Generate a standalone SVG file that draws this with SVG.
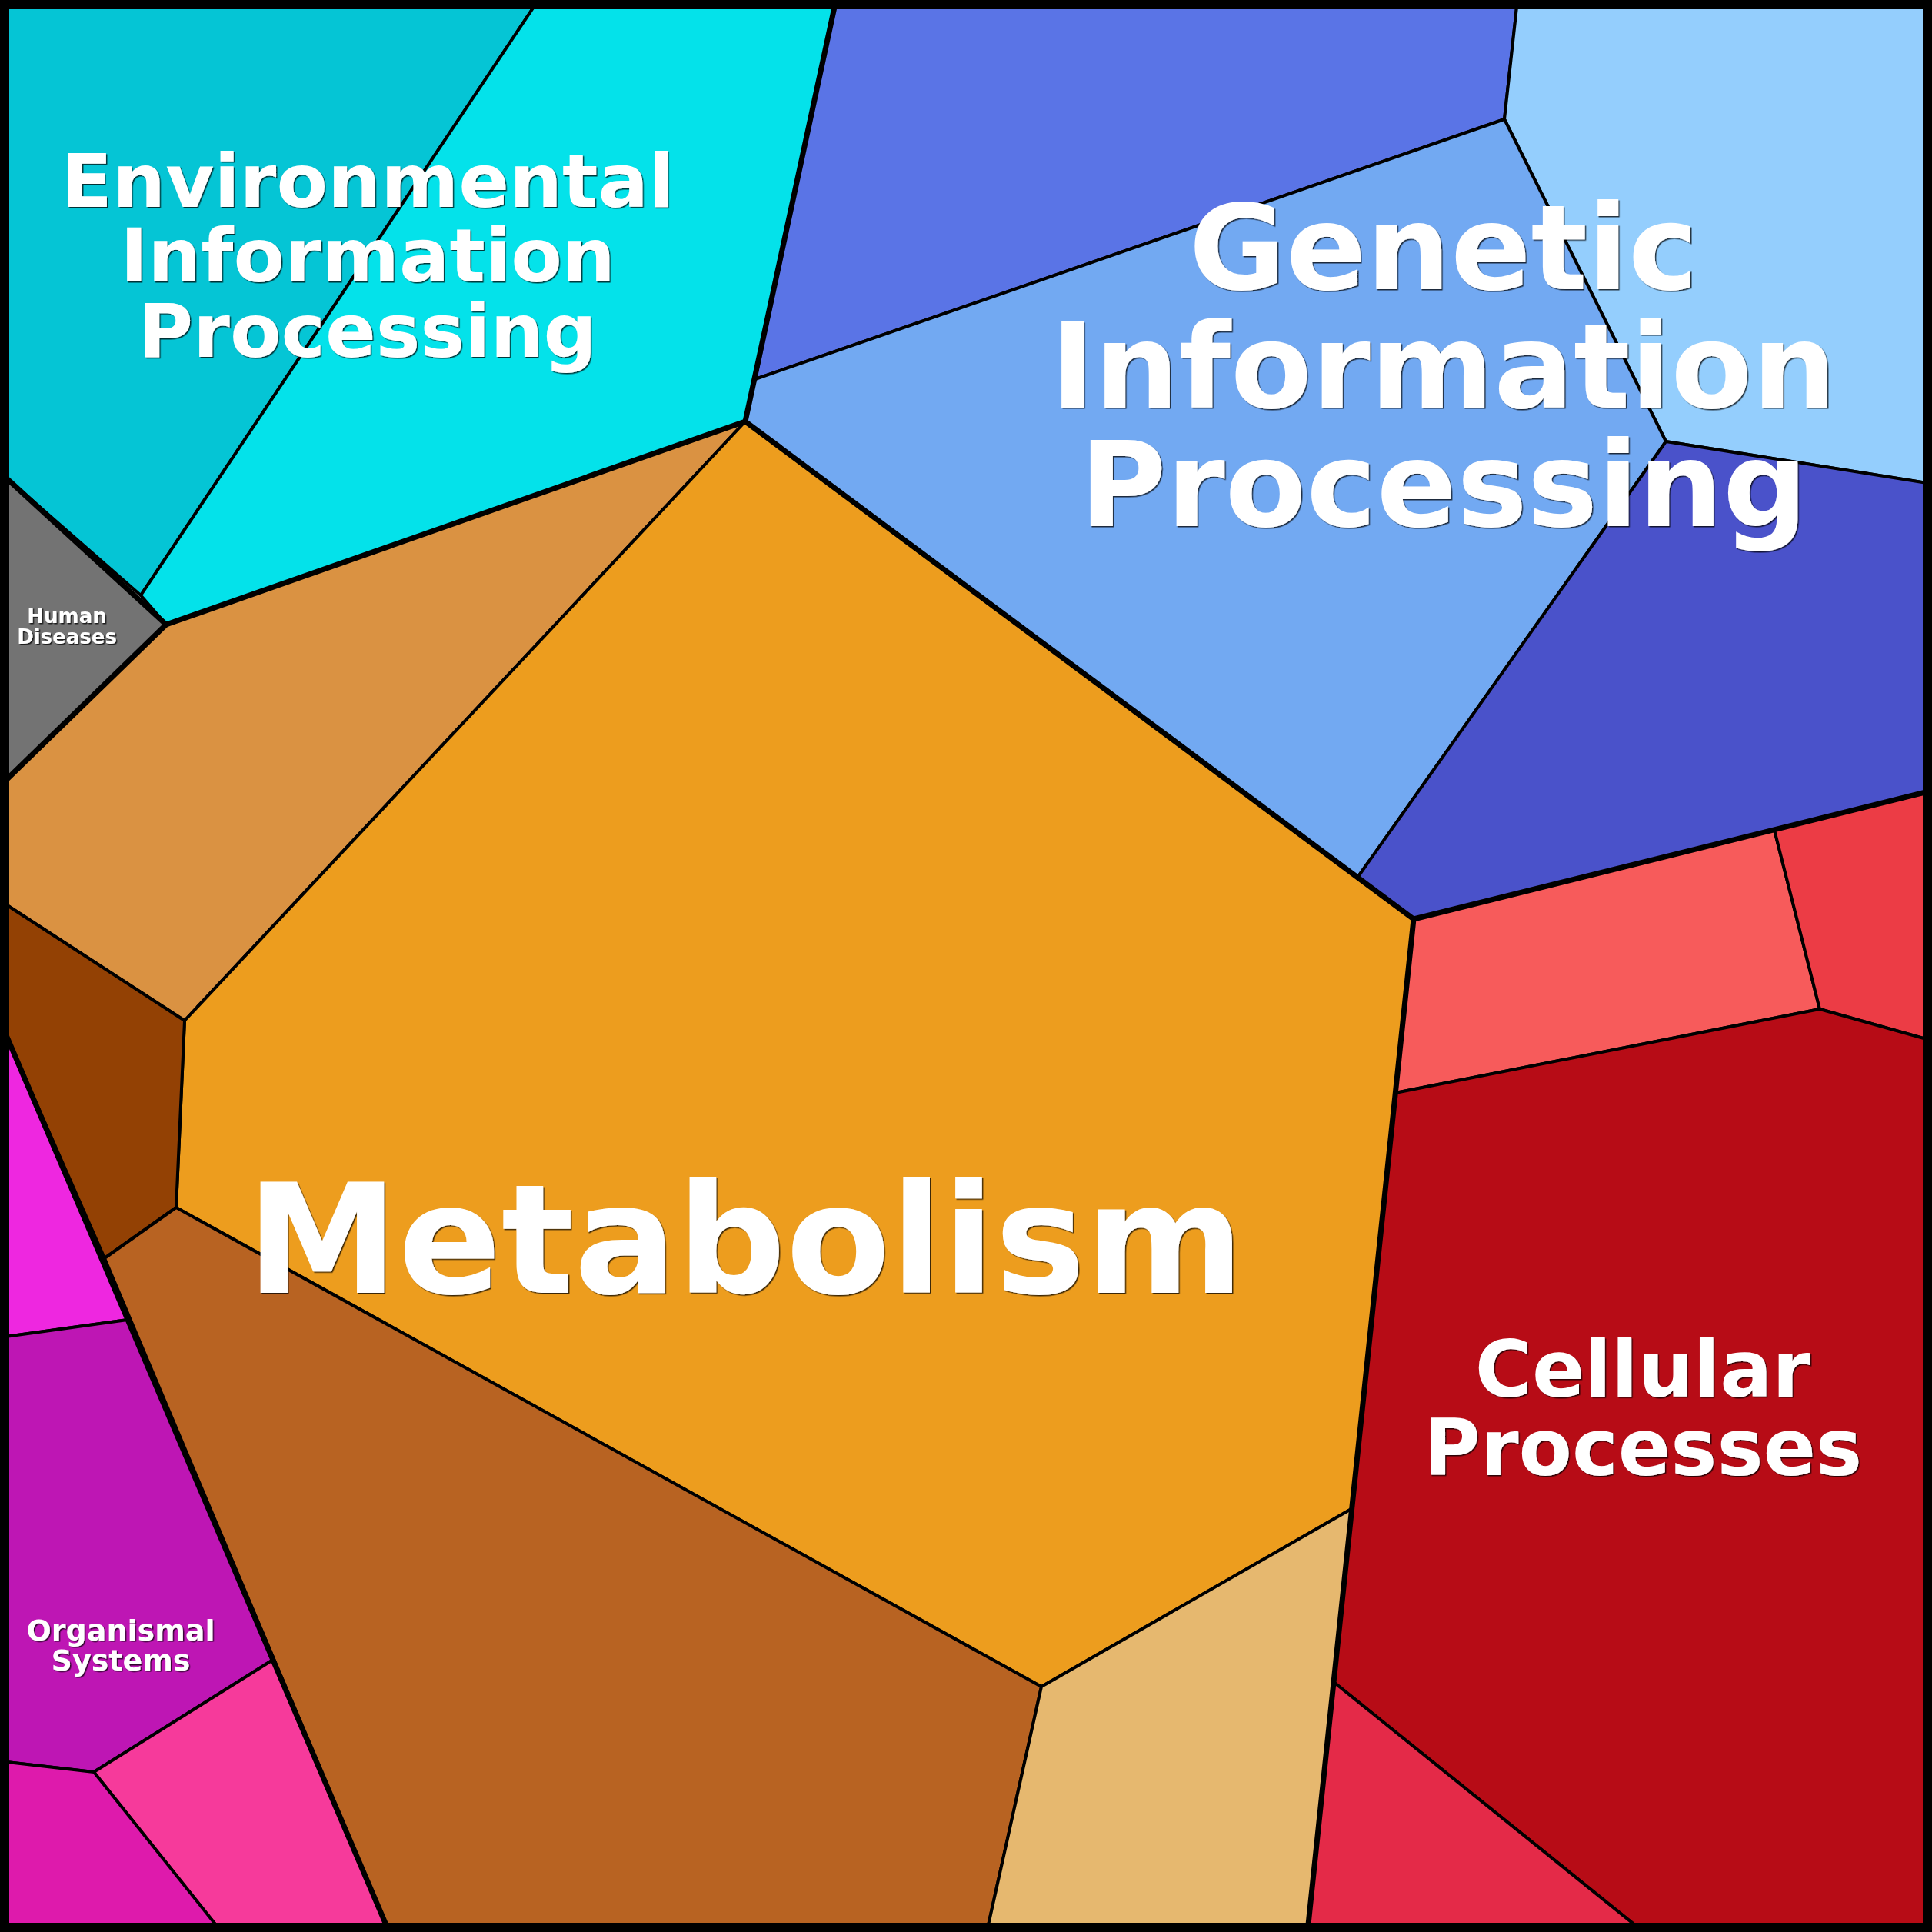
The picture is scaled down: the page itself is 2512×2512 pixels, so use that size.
<svg xmlns="http://www.w3.org/2000/svg" width="2512" height="2512" viewBox="0 0 2512 2512">
<defs>
<style>
.cell{stroke:#000;stroke-width:4;stroke-linejoin:round}
.thick{fill:none;stroke:#000;stroke-width:7;stroke-linejoin:round;stroke-linecap:round}
.lbl{font-family:"DejaVu Sans","Liberation Sans",sans-serif;font-weight:bold;fill:#fff;text-anchor:middle;filter:url(#sh)}
</style>
<filter id="sh" x="-5%" y="-5%" width="110%" height="120%">
<feDropShadow dx="1.5" dy="1.5" stdDeviation="0.6" flood-color="#000" flood-opacity="0.75"/>
</filter>
</defs>
<rect width="2512" height="2512" fill="#fff"/>
<g id="environmental">
<polygon class="cell" fill="#05C5D5" points="0,0 700,0 183,774 0,614"/>
<polygon class="cell" fill="#04E2EA" points="700,0 1087,0 969,548 216,812 183,774"/>
</g>
<g id="genetic">
<polygon class="cell" fill="#5A74E6" points="1087,0 1973,0 1956,155 982,493"/>
<polygon class="cell" fill="#94CEFD" points="1973,0 2512,0 2512,629 2166,574 1956,155"/>
<polygon class="cell" fill="#72A9F2" points="982,493 1956,155 2166,574 1765,1141 969,548"/>
<polygon class="cell" fill="#4A52CA" points="2166,574 2512,629 2512,1028 1838,1195 1765,1141"/>
</g>
<g id="human">
<polygon class="cell" fill="#737373" points="0,614 216,812 0,1022"/>
</g>
<g id="metabolism">
<polygon class="cell" fill="#DA9242" points="216,812 969,548 240,1327 0,1171 0,1022"/>
<polygon class="cell" fill="#ED9D1E" points="969,548 1838,1195 1757,1962 1354,2193 229,1570 240,1327"/>
<polygon class="cell" fill="#934104" points="0,1171 240,1327 229,1570 136,1636 0,1327"/>
<polygon class="cell" fill="#B86322" points="136,1636 229,1570 1354,2193 1283,2512 506,2512"/>
<polygon class="cell" fill="#E6B86F" points="1354,2193 1757,1962 1700,2512 1283,2512"/>
</g>
<g id="cellular">
<polygon class="cell" fill="#F75B5B" points="1838,1195 2307,1079 2366,1312 1814,1421"/>
<polygon class="cell" fill="#EC3C45" points="2307,1079 2512,1028 2512,1353 2366,1312"/>
<polygon class="cell" fill="#B70C16" points="1814,1421 2366,1312 2512,1353 2512,2512 2137,2512 1734,2187"/>
<polygon class="cell" fill="#E42A48" points="1734,2187 2137,2512 1700,2512"/>
</g>
<g id="organismal">
<polygon class="cell" fill="#EE27E0" points="0,1327 166,1716 0,1739"/>
<polygon class="cell" fill="#BE16B4" points="0,1739 166,1716 355,2158 122,2304 0,2290"/>
<polygon class="cell" fill="#F63A9B" points="355,2158 506,2512 288,2512 122,2304"/>
<polygon class="cell" fill="#DE1AAC" points="0,2290 122,2304 288,2512 0,2512"/>
</g>
<g id="connectors">
<polyline class="thick" points="0,614 216,812 969,548 1087,0"/>
<polyline class="thick" points="216,812 0,1022"/>
<polyline class="thick" points="969,548 1838,1195 2512,1028"/>
<polyline class="thick" points="1838,1195 1700,2512"/>
<polyline class="thick" points="0,1327 506,2512"/>
<rect x="6" y="6" width="2500" height="2500" fill="none" stroke="#000" stroke-width="12"/>
</g>
<g id="labels">
<text class="lbl" font-size="97" x="478"><tspan x="478" y="269">Environmental</tspan><tspan x="478" y="366">Information</tspan><tspan x="478" y="464">Processing</tspan></text>
<text class="lbl" font-size="154" x="1877"><tspan x="1877" y="376">Genetic</tspan><tspan x="1877" y="530">Information</tspan><tspan x="1877" y="684">Processing</tspan></text>
<text class="lbl" font-size="26" x="87"><tspan x="87" y="810">Human</tspan><tspan x="87" y="837">Diseases</tspan></text>
<text class="lbl" font-size="198" x="969" y="1681">Metabolism</text>
<text class="lbl" font-size="101" x="2136"><tspan x="2136" y="1816">Cellular</tspan><tspan x="2136" y="1918">Processes</tspan></text>
<text class="lbl" font-size="38" x="157"><tspan x="157" y="2133">Organismal</tspan><tspan x="157" y="2172">Systems</tspan></text>
</g>
</svg>
